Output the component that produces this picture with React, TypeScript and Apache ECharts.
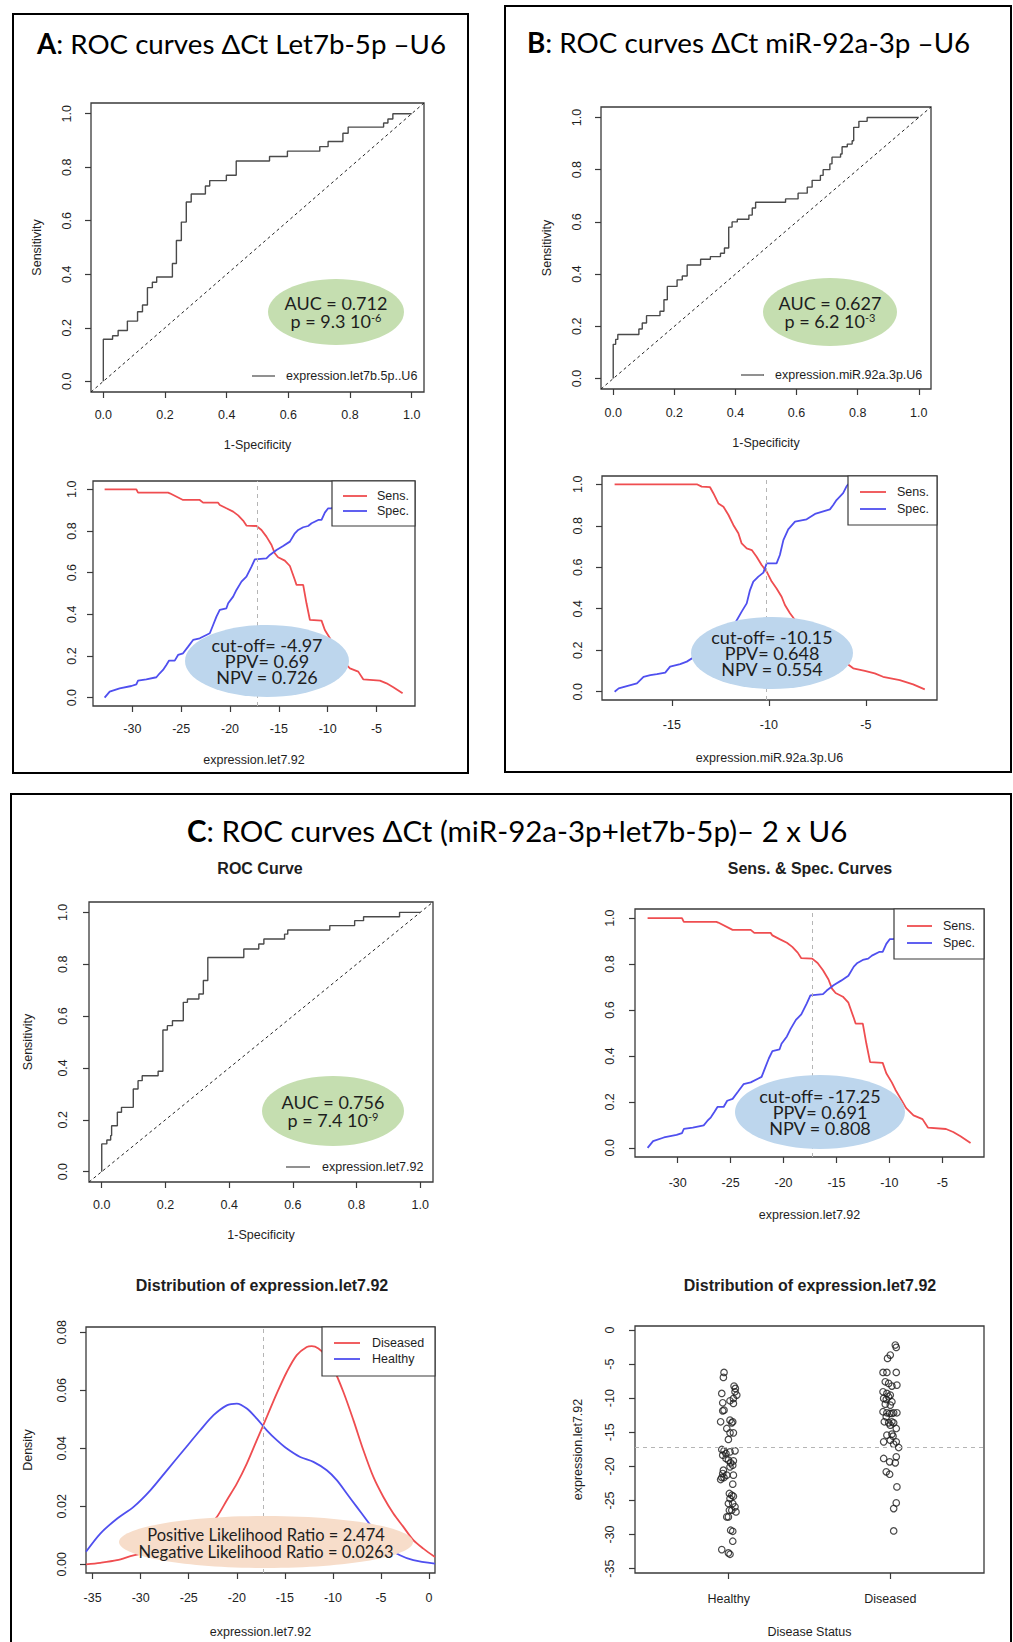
import React, { useEffect, useRef } from 'react';
import * as echarts from 'echarts';

// ---------------- DATA ----------------
// ROC corner points (1-specificity, sensitivity), drawn as step lines
const rocA_fpr = [0, 0, 0.030, 0.048, 0.078, 0.111, 0.127, 0.143, 0.159, 0.173, 0.224, 0.237, 0.253, 0.269, 0.285, 0.331, 0.345, 0.399, 0.431, 0.539, 0.597, 0.702, 0.729, 0.777, 0.794, 0.909, 0.923, 0.939, 1.0];
const rocA_sens = [0, 0.157, 0.17, 0.19, 0.225, 0.26, 0.285, 0.35, 0.37, 0.39, 0.44, 0.526, 0.595, 0.67, 0.70, 0.73, 0.75, 0.77, 0.823, 0.84, 0.86, 0.877, 0.896, 0.927, 0.95, 0.965, 0.98, 1.0, 1.0];

const rocB_fpr = [0, 0, 0.008, 0.015, 0.084, 0.095, 0.109, 0.153, 0.166, 0.177, 0.209, 0.226, 0.242, 0.286, 0.318, 0.351, 0.364, 0.378, 0.389, 0.406, 0.444, 0.455, 0.466, 0.564, 0.605, 0.635, 0.651, 0.678, 0.687, 0.709, 0.716, 0.744, 0.749, 0.766, 0.782, 0.787, 0.804, 0.831, 1.0];
const rocB_sens = [0, 0.131, 0.15, 0.169, 0.19, 0.213, 0.241, 0.258, 0.302, 0.353, 0.378, 0.393, 0.435, 0.457, 0.467, 0.48, 0.5, 0.58, 0.60, 0.61, 0.626, 0.653, 0.675, 0.688, 0.71, 0.733, 0.759, 0.778, 0.80, 0.822, 0.848, 0.86, 0.888, 0.898, 0.911, 0.962, 0.985, 1.0, 1.0];

const rocC_fpr = [0, 0, 0.016, 0.028, 0.031, 0.049, 0.062, 0.099, 0.114, 0.127, 0.177, 0.192, 0.206, 0.222, 0.256, 0.269, 0.305, 0.319, 0.333, 0.446, 0.493, 0.509, 0.574, 0.584, 0.716, 0.794, 0.822, 0.935, 1.0];
const rocC_sens = [0, 0.107, 0.122, 0.139, 0.177, 0.229, 0.248, 0.319, 0.351, 0.37, 0.387, 0.546, 0.563, 0.582, 0.653, 0.666, 0.685, 0.737, 0.826, 0.859, 0.878, 0.897, 0.916, 0.932, 0.949, 0.968, 0.983, 1.0, 1.0];

// Sensitivity / specificity vs cut-off, expression.let7.92
const let7_sensX = [-32.84, -29.59, -29.42, -26.34, -26.17, -24.81, -23.10, -22.76, -21.22, -21.05, -20.37, -19.68, -19.17, -18.66, -18.32, -17.29, -16.78, -16.27, -15.75, -15.42, -15.08, -14.39, -13.87, -13.36, -13.19, -12.51, -12.17, -11.82, -10.63, -10.29, -9.77, -9.43, -8.92, -8.41, -7.72, -6.87, -6.36, -4.65, -3.97, -3.28, -2.33];
const let7_sensY = [1.0, 1.0, 0.984, 0.984, 0.981, 0.949, 0.949, 0.936, 0.936, 0.925, 0.909, 0.893, 0.875, 0.85, 0.826, 0.824, 0.805, 0.773, 0.733, 0.693, 0.674, 0.658, 0.632, 0.565, 0.541, 0.541, 0.453, 0.373, 0.370, 0.325, 0.285, 0.253, 0.213, 0.173, 0.141, 0.125, 0.088, 0.082, 0.069, 0.050, 0.021];
const let7_specX = [-32.84, -32.32, -31.30, -30.10, -29.59, -29.42, -28.57, -27.54, -27.20, -26.86, -26.52, -26.24, -25.66, -25.32, -24.81, -24.29, -23.78, -23.10, -22.42, -22.07, -21.73, -21.39, -21.05, -20.37, -20.19, -19.68, -19.34, -18.83, -18.32, -17.80, -17.46, -16.27, -15.92, -15.24, -14.56, -13.87, -13.36, -13.02, -12.51, -12.0, -11.65, -10.97, -10.63, -10.29, -9.95, -9.60, -9.09, -7.38, -5.33, -2.33];
const let7_specY = [0, 0.029, 0.045, 0.056, 0.064, 0.082, 0.088, 0.098, 0.117, 0.133, 0.157, 0.178, 0.178, 0.205, 0.213, 0.245, 0.277, 0.285, 0.301, 0.309, 0.349, 0.389, 0.421, 0.429, 0.453, 0.485, 0.517, 0.557, 0.581, 0.629, 0.664, 0.669, 0.685, 0.709, 0.728, 0.749, 0.789, 0.805, 0.818, 0.824, 0.837, 0.853, 0.853, 0.888, 0.909, 0.909, 0.925, 0.965, 0.98, 1.0];

// Sensitivity / specificity vs cut-off, expression.miR.92a.3p.U6
const mir_sensX = [-17.95, -13.71, -13.46, -13.03, -12.86, -12.60, -12.34, -12.08, -11.83, -11.57, -11.40, -11.14, -10.88, -10.63, -10.37, -10.11, -9.85, -9.60, -9.34, -9.17, -8.91, -8.65, -8.40, -7.88, -7.37, -6.85, -6.42, -6.0, -5.65, -5.05, -4.54, -4.11, -3.25, -2.56, -1.96];
const mir_sensY = [1.0, 1.0, 0.989, 0.986, 0.957, 0.908, 0.892, 0.852, 0.804, 0.764, 0.715, 0.691, 0.683, 0.651, 0.611, 0.579, 0.531, 0.498, 0.458, 0.418, 0.378, 0.346, 0.322, 0.281, 0.233, 0.185, 0.161, 0.137, 0.113, 0.1, 0.088, 0.072, 0.056, 0.035, 0.011];
const mir_specX = [-17.95, -17.74, -17.32, -16.80, -16.46, -16.11, -15.77, -15.34, -15.09, -14.57, -14.23, -13.54, -12.86, -12.17, -11.74, -11.40, -11.14, -10.97, -10.80, -10.54, -10.28, -10.11, -9.60, -9.43, -9.25, -9.0, -8.65, -8.05, -7.62, -6.85, -6.68, -6.51, -6.17, -6.0, -5.91, -1.96];
const mir_specY = [0, 0.016, 0.027, 0.040, 0.072, 0.080, 0.085, 0.092, 0.121, 0.133, 0.145, 0.185, 0.249, 0.297, 0.33, 0.386, 0.426, 0.49, 0.531, 0.555, 0.574, 0.619, 0.619, 0.659, 0.731, 0.783, 0.82, 0.831, 0.857, 0.879, 0.9, 0.924, 0.957, 0.989, 1.0, 1.0];

// Density curves
const denDisX = [-35.69, -34.2, -32.47, -30.74, -29.0, -27.27, -25.54, -23.81, -22.77, -22.08, -21.04, -20.0, -18.96, -17.92, -16.88, -15.84, -14.80, -13.76, -12.72, -12.2, -11.51, -10.81, -9.95, -8.91, -7.87, -6.83, -5.79, -4.75, -3.71, -2.67, -1.63, -0.59, 0.62];
const denDisY = [0.0, 0.0005, 0.0014, 0.0031, 0.0043, 0.006, 0.0083, 0.0117, 0.014, 0.0163, 0.0221, 0.0278, 0.0347, 0.0428, 0.0508, 0.0589, 0.0663, 0.0721, 0.0749, 0.0752, 0.0744, 0.0721, 0.0675, 0.0594, 0.0497, 0.0393, 0.0301, 0.0232, 0.0175, 0.0129, 0.0083, 0.0054, 0.0025];
const denHeaX = [-35.69, -34.2, -32.47, -30.74, -29.0, -27.27, -25.54, -23.81, -22.42, -21.04, -20.0, -18.96, -17.92, -16.88, -15.84, -14.80, -13.41, -12.03, -10.64, -9.6, -8.56, -7.52, -6.48, -5.44, -4.4, -3.02, -1.63, 0.62];
const denHeaY = [0.0043, 0.0106, 0.0157, 0.0198, 0.0255, 0.0324, 0.0393, 0.0462, 0.0514, 0.0548, 0.0554, 0.0537, 0.0502, 0.0462, 0.0428, 0.0399, 0.037, 0.0353, 0.0324, 0.029, 0.0244, 0.0198, 0.0152, 0.0106, 0.006, 0.0031, 0.0014, 0.0002];

// Strip chart values and horizontal jitter
const statusLabels = ['Healthy', 'Diseased'];
const healthyVal = [-6.22, -6.95, -9.30, -10.67, -10.38, -10.77, -8.22, -8.57, -9.06, -9.54, -10.04, -11.75, -11.85, -13.46, -13.22, -13.46, -13.61, -14.44, -15.08, -15.08, -16.05, -17.52, -17.72, -18.11, -17.87, -17.72, -18.36, -18.84, -19.09, -19.19, -19.48, -19.82, -20.07, -20.56, -21.05, -21.63, -21.93, -21.63, -21.29, -21.29, -22.61, -23.98, -24.23, -24.38, -24.72, -25.45, -25.45, -25.94, -26.68, -26.43, -26.43, -27.41, -27.41, -29.37, -29.52, -30.98, -32.21, -32.70, -32.89];
const healthyJit = [-0.029, -0.033, -0.043, -0.037, 0.008, 0.029, 0.033, 0.041, 0.039, 0.050, 0.029, -0.029, -0.037, -0.050, 0.008, 0.025, 0.019, -0.012, 0.008, 0.029, -0.002, -0.043, -0.029, -0.017, 0.008, 0.039, -0.037, -0.017, -0.002, 0.029, 0.012, 0.025, 0.008, -0.033, -0.037, -0.043, -0.050, -0.029, -0.012, 0.029, 0.025, 0.004, 0.019, 0.029, 0.008, -0.002, 0.025, 0.039, 0.045, 0.019, 0.004, -0.002, -0.012, 0.012, 0.025, 0.025, -0.043, -0.002, 0.008];
const diseasedVal = [-2.20, -2.55, -3.67, -4.16, -6.22, -6.22, -6.22, -7.59, -7.83, -8.22, -8.08, -9.06, -9.30, -9.54, -10.03, -10.18, -9.79, -10.52, -10.87, -11.01, -11.99, -12.14, -12.24, -12.24, -12.14, -12.14, -12.73, -13.46, -13.61, -13.46, -13.61, -13.95, -14.44, -15.42, -15.27, -15.57, -16.40, -16.15, -16.40, -16.74, -17.23, -18.84, -19.33, -18.60, -19.48, -20.80, -21.15, -23.01, -25.36, -26.19, -29.47];
const diseasedJit = [0.031, 0.037, 0, -0.017, -0.045, -0.021, 0.037, -0.031, -0.010, 0.010, 0.041, -0.045, -0.021, 0, -0.041, -0.025, -0.010, 0.010, -0.031, 0, -0.045, -0.021, -0.004, 0.010, 0.021, 0.041, -0.025, -0.037, -0.010, 0.010, 0.021, 0, 0.037, -0.021, 0.010, 0.017, -0.041, 0, 0.037, 0.021, 0.052, -0.041, -0.004, 0.037, 0.031, -0.025, -0.004, 0.041, 0.037, 0.021, 0.021];

const cutLet7 = -17.25;
const cutMir = -10.15;

const unitTicks = [0, 0.2, 0.4, 0.6, 0.8, 1.0];
const let7Ticks = [-30, -25, -20, -15, -10, -5];
const mirTicks = [-15, -10, -5];
const densXTicks = [-35, -30, -25, -20, -15, -10, -5, 0];
const densYTicks = [0, 0.02, 0.04, 0.06, 0.08];
const stripYTicks = [0, -5, -10, -15, -20, -25, -30, -35];
const stripXTicks = [1, 2];

// ---------------- STYLE / LAYOUT ----------------
const RFONT = '"Liberation Sans", Arial, Helvetica, sans-serif';
const CFONT = 'Lato, "Noto Sans", "DejaVu Sans", sans-serif';
const FS = 12.5;
const AXC = '#3a3a3a';
const TXC = '#1e1e1e';
const RED = '#ef4d50';
const BLUE = '#4f4fef';
const GREEN = '#c5deb0';
const LBLUE = '#bdd6ed';
const PEACH = '#f7ddca';

const zip = (xs: number[], ys: number[]) => xs.map((x, i) => [x, ys[i]]);
const f1 = (v: number) => v.toFixed(1);
const f2 = (v: number) => v.toFixed(2);
const f0 = (v: number) => String(v);

interface Spec {
  L: number; T: number; R: number; B: number;
  xr: [number, number]; yr: [number, number];
  xt: number[]; yt: number[];
  xf: (v: number) => string; yf: (v: number) => string;
  xLab: number; yLab: number;
  xName?: string; xNameY?: number; yName?: string; yNameX?: number;
}

const specs: Spec[] = [
  // 0 ROC A
  { L: 91, T: 103, R: 424, B: 392, xr: [-0.04, 1.04], yr: [-0.04, 1.04], xt: unitTicks, yt: unitTicks, xf: f1, yf: f1, xLab: 415, yLab: 67, xName: '1-Specificity', xNameY: 445, yName: 'Sensitivity', yNameX: 37 },
  // 1 Sens/Spec A
  { L: 93, T: 481, R: 415, B: 706, xr: [-34.03, -1.06], yr: [-0.04, 1.04], xt: let7Ticks, yt: unitTicks, xf: f0, yf: f1, xLab: 729, yLab: 72, xName: 'expression.let7.92', xNameY: 760 },
  // 2 ROC B
  { L: 601, T: 107, R: 931, B: 389, xr: [-0.04, 1.04], yr: [-0.04, 1.04], xt: unitTicks, yt: unitTicks, xf: f1, yf: f1, xLab: 413, yLab: 577, xName: '1-Specificity', xNameY: 443, yName: 'Sensitivity', yNameX: 547 },
  // 3 Sens/Spec B
  { L: 602, T: 476, R: 937, B: 700, xr: [-18.6, -1.33], yr: [-0.04, 1.04], xt: mirTicks, yt: unitTicks, xf: f0, yf: f1, xLab: 725, yLab: 578, xName: 'expression.miR.92a.3p.U6', xNameY: 758 },
  // 4 ROC C
  { L: 89, T: 902, R: 433, B: 1182, xr: [-0.04, 1.04], yr: [-0.04, 1.04], xt: unitTicks, yt: unitTicks, xf: f1, yf: f1, xLab: 1205, yLab: 63, xName: '1-Specificity', xNameY: 1235, yName: 'Sensitivity', yNameX: 28 },
  // 5 Sens/Spec C
  { L: 635, T: 909, R: 984, B: 1157, xr: [-34.03, -1.06], yr: [-0.04, 1.04], xt: let7Ticks, yt: unitTicks, xf: f0, yf: f1, xLab: 1183, yLab: 610, xName: 'expression.let7.92', xNameY: 1215 },
  // 6 Density
  { L: 86, T: 1327, R: 435, B: 1573, xr: [-35.69, 0.62], yr: [-0.003, 0.0818], xt: densXTicks, yt: densYTicks, xf: f0, yf: f2, xLab: 1598, yLab: 62, xName: 'expression.let7.92', xNameY: 1632, yName: 'Density', yNameX: 28 },
  // 7 Strip
  { L: 635, T: 1326, R: 984, B: 1573, xr: [0.42, 2.58], yr: [-35.64, 0.59], xt: stripXTicks, yt: stripYTicks, xf: (v: number) => statusLabels[Math.round(v) - 1], yf: f0, xLab: 1599, yLab: 610, xName: 'Disease Status', xNameY: 1632, yName: 'expression.let7.92', yNameX: 578 },
];

function buildAxes() {
  const grid: any[] = [];
  const xAxis: any[] = [];
  const yAxis: any[] = [];
  specs.forEach((s, i) => {
    grid.push({ left: s.L, top: s.T, width: s.R - s.L, height: s.B - s.T, show: true, borderColor: AXC, borderWidth: 1.3, backgroundColor: 'rgba(0,0,0,0)', containLabel: false });
    const nameStyle = { fontSize: FS, fontFamily: RFONT, color: TXC };
    xAxis.push({
      gridIndex: i, type: 'value', min: s.xr[0], max: s.xr[1], position: 'bottom',
      axisLine: { show: false, onZero: false }, splitLine: { show: false },
      axisTick: { show: true, customValues: s.xt, length: 6, inside: false, lineStyle: { color: AXC, width: 1.2 } },
      axisLabel: { show: true, customValues: s.xt, formatter: s.xf, margin: s.xLab - FS / 2 - s.B, fontSize: FS, fontFamily: RFONT, color: TXC },
      name: s.xName || '', nameLocation: 'middle', nameGap: (s.xNameY || 0) - FS / 2 - s.B, nameTextStyle: nameStyle,
    });
    yAxis.push({
      gridIndex: i, type: 'value', min: s.yr[0], max: s.yr[1], position: 'left',
      axisLine: { show: false, onZero: false }, splitLine: { show: false },
      axisTick: { show: true, customValues: s.yt, length: 6, inside: false, lineStyle: { color: AXC, width: 1.2 } },
      axisLabel: { show: true, customValues: s.yt, formatter: s.yf, rotate: 90, margin: s.L - (s.yLab + FS / 2), fontSize: FS, fontFamily: RFONT, color: TXC },
      name: s.yName || '', nameLocation: 'middle', nameRotate: 90, nameGap: s.yNameX ? s.L - (s.yNameX + FS / 2) : 0, nameTextStyle: nameStyle,
    });
  });
  return { grid, xAxis, yAxis };
}

function rocSeries(idx: number, fpr: number[], sens: number[]) {
  const r = specs[idx].xr;
  return [
    { type: 'line', xAxisIndex: idx, yAxisIndex: idx, data: zip(fpr, sens), step: 'end', symbol: 'none', lineStyle: { color: '#4a4a4a', width: 1.4 }, z: 3 },
    { type: 'line', xAxisIndex: idx, yAxisIndex: idx, data: [[r[0], r[0]], [r[1], r[1]]], symbol: 'none', lineStyle: { color: '#222', width: 1, type: [3, 3] }, z: 2 },
  ];
}

function cutLine(axis: 'xAxis' | 'yAxis', v: number) {
  return { symbol: 'none', silent: true, label: { show: false }, lineStyle: { color: '#b5b5b5', width: 1, type: [4, 4] }, data: [{ [axis]: v }] };
}

function ssSeries(idx: number, sx: number[], sy: number[], px: number[], py: number[], cut: number) {
  return [
    { type: 'line', xAxisIndex: idx, yAxisIndex: idx, data: zip(sx, sy), symbol: 'none', lineStyle: { color: RED, width: 1.8 }, z: 3, markLine: cutLine('xAxis', cut) },
    { type: 'line', xAxisIndex: idx, yAxisIndex: idx, data: zip(px, py), symbol: 'none', lineStyle: { color: BLUE, width: 1.8 }, z: 3 },
  ];
}

// -------- graphic helpers --------
const txt = (x: number, y: number, text: string, o: any = {}) => ({
  type: 'text', x, y, z: 61, silent: true,
  style: {
    text, fontSize: o.fs || FS, fontFamily: o.ff || RFONT, fontWeight: o.fw || 'normal', fill: o.fill || TXC,
    align: o.align || 'center', verticalAlign: 'middle', textAlign: o.align || 'center', textVerticalAlign: 'middle',
    lineHeight: o.lh, rich: o.rich,
  },
});
const ell = (cx: number, cy: number, rx: number, ry: number, fill: string) => ({ type: 'ellipse', z: 60, silent: true, shape: { cx, cy, rx, ry }, style: { fill } });
const seg = (x1: number, y1: number, x2: number, y2: number, color: string, w = 1.8) => ({ type: 'line', z: 62, silent: true, shape: { x1, y1, x2, y2 }, style: { stroke: color, lineWidth: w } });
const box = (x: number, y: number, w: number, h: number, stroke: string, lw: number, fill = 'none', z = 62) => ({ type: 'rect', z, silent: true, shape: { x, y, width: w, height: h }, style: { fill, stroke, lineWidth: lw } });

const supRich = (fs: number) => ({ sup: { fontSize: 11, fontFamily: CFONT, fill: TXC, verticalAlign: 'top', lineHeight: 10 }, n: { fontSize: fs, fontFamily: CFONT, fill: TXC, lineHeight: 17 } });
const titleRich = (fs: number) => ({ b: { fontSize: fs, fontFamily: CFONT, fontWeight: 'bold', fill: '#000' }, n: { fontSize: fs, fontFamily: CFONT, fill: '#000' } });

function rLegend(x: number, y: number, w: number, h: number, items: [string, string][], lineX1: number, lineX2: number, textX: number, rowY: number[]) {
  const els: any[] = [box(x, y, w, h, AXC, 1.2, '#ffffff', 59)];
  items.forEach((it, i) => {
    els.push(seg(lineX1, rowY[i], lineX2, rowY[i], it[1], 1.8));
    els.push(txt(textX, rowY[i], it[0], { align: 'left', lh: 14 }));
  });
  return els;
}

function buildGraphic() {
  const g: any[] = [];
  // panel frames
  g.push(box(13, 14, 455, 759, '#000', 2, 'none', 70));
  g.push(box(505, 6, 506, 766, '#000', 2, 'none', 70));
  g.push(box(11, 794, 1000, 870, '#000', 2, 'none', 70));
  // panel titles
  g.push(txt(37, 43, '{b|A}{n|: ROC curves ΔCt Let7b-5p –U6}', { align: 'left', fs: 27.7, ff: CFONT, rich: titleRich(27.7) }));
  g.push(txt(527, 42, '{b|B}{n|: ROC curves ΔCt miR-92a-3p –U6}', { align: 'left', fs: 27.8, ff: CFONT, rich: titleRich(27.8) }));
  g.push(txt(187, 830, '{b|C}{n|: ROC curves ΔCt (miR-92a-3p+let7b-5p)– 2 x U6}', { align: 'left', fs: 29.5, ff: CFONT, rich: titleRich(29.5) }));
  // sub-plot titles in C
  g.push(txt(260, 868, 'ROC Curve', { fw: 'bold', fs: 16 }));
  g.push(txt(810, 868, 'Sens. & Spec. Curves', { fw: 'bold', fs: 16 }));
  g.push(txt(262, 1285, 'Distribution of expression.let7.92', { fw: 'bold', fs: 16 }));
  g.push(txt(810, 1285, 'Distribution of expression.let7.92', { fw: 'bold', fs: 16 }));

  // ROC legends (no box)
  g.push(seg(252, 376, 275, 376, '#555', 1.3)); g.push(txt(286, 376, 'expression.let7b.5p..U6', { align: 'left' }));
  g.push(seg(741, 375, 764, 375, '#555', 1.3)); g.push(txt(775, 375, 'expression.miR.92a.3p.U6', { align: 'left' }));
  g.push(seg(286, 1167, 310, 1167, '#555', 1.3)); g.push(txt(322, 1167, 'expression.let7.92', { align: 'left' }));

  // boxed legends
  g.push(...rLegend(332, 481, 83, 45, [['Sens.', RED], ['Spec.', BLUE]], 343, 367, 377, [496, 511]));
  g.push(...rLegend(848, 476, 89, 49, [['Sens.', RED], ['Spec.', BLUE]], 860, 886, 897, [492, 509]));
  g.push(...rLegend(894, 909, 90, 50, [['Sens.', RED], ['Spec.', BLUE]], 907, 932, 943, [926, 943]));
  g.push(...rLegend(322, 1327, 113, 49, [['Diseased', RED], ['Healthy', BLUE]], 334, 360, 372, [1343, 1359]));

  // AUC ellipses
  const auc = (cx: number, cy: number, rx: number, ry: number, a: string, p: string, e: string) => {
    g.push(ell(cx, cy, rx, ry, GREEN));
    g.push(txt(cx, cy - 9.5, a, { fs: 18, ff: CFONT, lh: 17 }));
    g.push(txt(cx, cy + 8.5, `{n|${p}}{sup|${e}}`, { fs: 18, ff: CFONT, lh: 17, rich: supRich(18) }));
  };
  auc(336, 312, 68, 33, 'AUC = 0.712', 'p = 9.3 10', '-6');
  auc(830, 312, 67, 34, 'AUC = 0.627', 'p = 6.2 10', '-3');
  auc(333, 1111, 71, 35, 'AUC = 0.756', 'p = 7.4 10', '-9');

  // cut-off ellipses
  const cut = (cx: number, cy: number, rx: number, ry: number, l: string[]) => {
    g.push(ell(cx, cy, rx, ry, LBLUE));
    l.forEach((s, i) => g.push(txt(cx, cy - 16 + i * 16, s, { fs: 18, ff: CFONT, lh: 15 })));
  };
  cut(267, 661, 82, 36, ['cut-off= -4.97', 'PPV= 0.69', 'NPV = 0.726']);
  cut(772, 653, 81, 36, ['cut-off= -10.15', 'PPV= 0.648', 'NPV = 0.554']);
  cut(820, 1112, 85, 37, ['cut-off= -17.25', 'PPV= 0.691', 'NPV = 0.808']);

  // likelihood ellipse
  g.push(ell(266, 1542, 147, 26, PEACH));
  g.push(txt(266, 1534.5, 'Positive Likelihood Ratio = 2.474', { fs: 16.5, ff: CFONT, lh: 16 }));
  g.push(txt(266, 1552, 'Negative Likelihood Ratio = 0.0263', { fs: 16.5, ff: CFONT, lh: 16 }));
  return g;
}

function buildOption() {
  const { grid, xAxis, yAxis } = buildAxes();
  const series: any[] = [
    ...rocSeries(0, rocA_fpr, rocA_sens),
    ...ssSeries(1, let7_sensX, let7_sensY, let7_specX, let7_specY, cutLet7),
    ...rocSeries(2, rocB_fpr, rocB_sens),
    ...ssSeries(3, mir_sensX, mir_sensY, mir_specX, mir_specY, cutMir),
    ...rocSeries(4, rocC_fpr, rocC_sens),
    ...ssSeries(5, let7_sensX, let7_sensY, let7_specX, let7_specY, cutLet7),
    { type: 'line', xAxisIndex: 6, yAxisIndex: 6, data: zip(denDisX, denDisY), smooth: 0.3, symbol: 'none', lineStyle: { color: RED, width: 1.8 }, z: 3, markLine: cutLine('xAxis', cutLet7) },
    { type: 'line', xAxisIndex: 6, yAxisIndex: 6, data: zip(denHeaX, denHeaY), smooth: 0.3, symbol: 'none', lineStyle: { color: BLUE, width: 1.8 }, z: 3 },
    {
      type: 'scatter', xAxisIndex: 7, yAxisIndex: 7, symbol: 'circle', symbolSize: 6.5,
      data: healthyVal.map((v, i) => [1 + healthyJit[i], v]),
      itemStyle: { color: 'rgba(0,0,0,0)', borderColor: '#1c1c1c', borderWidth: 1.2 }, z: 3,
      markLine: cutLine('yAxis', cutLet7),
    },
    {
      type: 'scatter', xAxisIndex: 7, yAxisIndex: 7, symbol: 'circle', symbolSize: 6.5,
      data: diseasedVal.map((v, i) => [2 + diseasedJit[i], v]),
      itemStyle: { color: 'rgba(0,0,0,0)', borderColor: '#1c1c1c', borderWidth: 1.2 }, z: 3,
    },
  ];
  return { animation: false, backgroundColor: '#ffffff', grid, xAxis, yAxis, series, graphic: { elements: buildGraphic() } };
}

export default function App() {
  const ref = useRef<HTMLDivElement>(null);
  useEffect(() => {
    if (!ref.current) return;
    const chart = echarts.init(ref.current, undefined, { renderer: 'svg' });
    chart.setOption(buildOption() as any);
    return () => chart.dispose();
  }, []);
  return <div ref={ref} style={{ position: 'fixed', left: 0, top: 0, width: 1013, height: 1642, background: '#fff' }} />;
}
